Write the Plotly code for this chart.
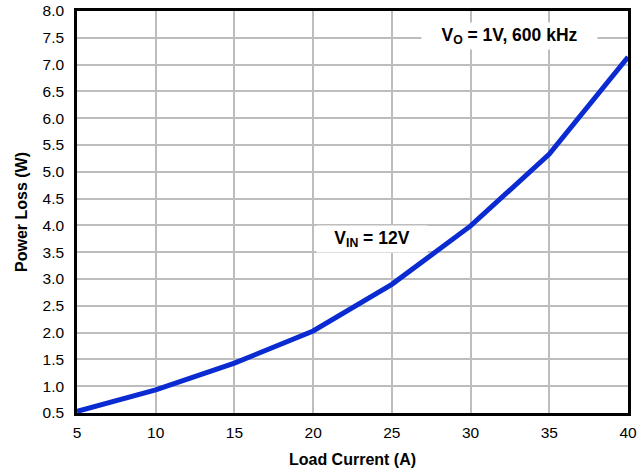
import plotly.graph_objects as go

load_current = [5, 10, 15, 20, 25, 30, 35, 40]
power_loss = [0.53, 0.93, 1.43, 2.03, 2.90, 3.99, 5.33, 7.14]
y_ticks = [0.5, 1.0, 1.5, 2.0, 2.5, 3.0, 3.5, 4.0, 4.5, 5.0, 5.5, 6.0, 6.5, 7.0, 7.5, 8.0]
x_ticks = [5, 10, 15, 20, 25, 30, 35, 40]

fig = go.Figure()
fig.add_trace(go.Scatter(x=load_current, y=power_loss, mode="lines",
                         line=dict(color="#0a2ad2", width=5), showlegend=False))

fig.update_xaxes(range=[5, 40], tickvals=x_ticks, ticktext=[str(v) for v in x_ticks],
                 showgrid=True, gridcolor="#bdbdbd", gridwidth=1.5,
                 showline=True, linecolor="black", linewidth=2.5, mirror=True,
                 ticks="", zeroline=False, ticklabelstandoff=4, automargin=False,
                 title=dict(text="<b>Load Current (A)</b>", font=dict(size=16, color="black"), standoff=14),
                 tickfont=dict(size=15.5, color="black"))
fig.update_yaxes(range=[0.5, 8.0], tickvals=y_ticks, ticktext=[f"{v:.1f}" for v in y_ticks],
                 showgrid=True, gridcolor="#bdbdbd", gridwidth=1.5,
                 showline=True, linecolor="black", linewidth=2.5, mirror=True,
                 ticks="", zeroline=False, ticklabelstandoff=7, automargin=False,
                 title=dict(text="<b>Power Loss (W)</b>", font=dict(size=16, color="black"), standoff=11),
                 tickfont=dict(size=15.5, color="black"))

fig.add_annotation(x=23.74, y=3.75, xref="x", yref="y", text="<b>V<sub>IN</sub> = 12V</b>",
                   showarrow=False, bgcolor="white", font=dict(size=17.5, color="black"),
                   width=110, height=26, borderpad=0)
fig.add_annotation(x=32.5, y=7.53, xref="x", yref="y", text="<b>V<sub>O</sub> = 1V, 600 kHz</b>",
                   showarrow=False, bgcolor="white", font=dict(size=17.5, color="black"),
                   width=175, height=26, borderpad=0)

fig.update_layout(width=642, height=474, margin=dict(l=77, r=14, t=11, b=61),
                  plot_bgcolor="white", paper_bgcolor="white",
                  font=dict(family="Liberation Sans, Arial, sans-serif", color="black"))

fig.write_html("out.html", config={"displayModeBar": False},
               post_script="document.body.style.margin='0';document.body.style.overflow='hidden';")
